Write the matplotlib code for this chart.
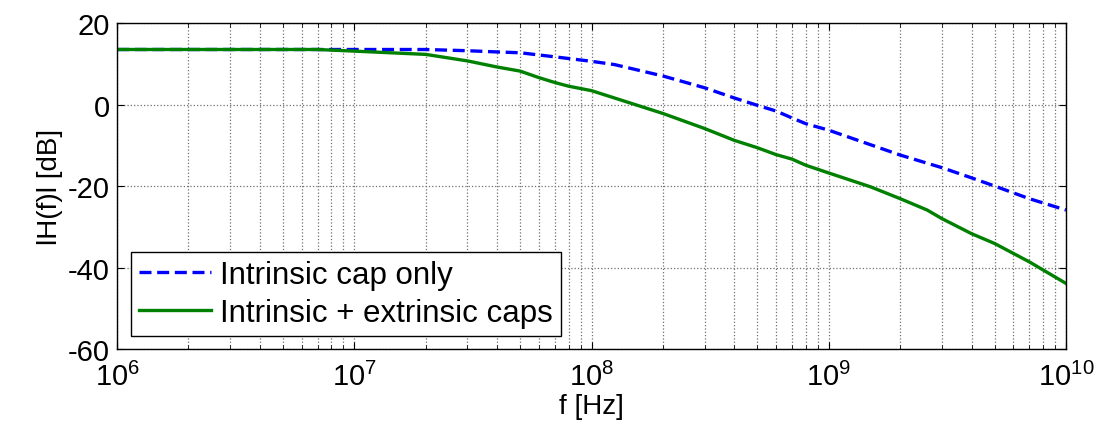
import matplotlib.pyplot as plt
from matplotlib.ticker import LogLocator, NullFormatter

# frequency points [Hz] and magnitude [dB]
freq_blue = [1e6, 2e6, 5e6, 1e7, 2e7, 3e7, 4e7, 5e7, 7e7, 1e8, 1.25e8, 2e8, 3e8, 4e8,
             5e8, 6e8, 7e8, 8e8, 1e9, 2e9, 3e9, 4e9, 5e9, 7e9, 1e10]
mag_blue = [13.5, 13.5, 13.5, 13.5, 13.5, 13.2, 12.9, 12.7, 11.7, 10.6, 9.8, 7.0, 4.1, 1.6,
            -0.2, -1.6, -3.3, -4.7, -6.3, -12.4, -15.5, -18.0, -20.0, -23.1, -25.9]

freq_green = [1e6, 2e6, 5e6, 7e6, 1e7, 2e7, 3e7, 4e7, 5e7, 6e7, 7e7, 8e7, 1e8, 1.25e8,
              2e8, 3e8, 4e8, 5e8, 6e8, 7e8, 8e8, 1e9, 1.5e9, 2e9, 2.6e9, 3e9, 4e9, 5e9,
              7e9, 1e10]
mag_green = [13.5, 13.5, 13.5, 13.5, 13.1, 12.3, 10.7, 9.2, 8.2, 6.6, 5.4, 4.5, 3.4, 1.6,
             -2.2, -5.9, -8.8, -10.6, -12.3, -13.4, -14.9, -16.8, -20.2, -23.1, -25.9, -28.0,
             -31.7, -34.1, -38.6, -43.9]

plt.rcParams['font.family'] = ['Liberation Sans', 'DejaVu Sans']
plt.rcParams['mathtext.fontset'] = 'custom'
plt.rcParams['mathtext.rm'] = 'Liberation Sans'
plt.rcParams['axes.unicode_minus'] = False

fig = plt.figure(figsize=(10.97, 4.35), dpi=100)
ax = fig.add_axes([0.1067, 0.1954, 0.8650, 0.7494])

ax.semilogx(freq_blue, mag_blue, '--', color='#0000ff', lw=2.4, dashes=(3.6, 1.7),
            label='Intrinsic cap only')
ax.semilogx(freq_green, mag_green, '-', color='#008000', lw=2.4,
            label='Intrinsic + extrinsic caps')

ax.set_xlim(1e6, 1e10)
ax.set_ylim(-60, 20)
ax.set_yticks([-60, -40, -20, 0, 20])
ax.xaxis.set_major_locator(LogLocator(base=10, numticks=10))
ax.xaxis.set_minor_locator(LogLocator(base=10, subs=range(2, 10), numticks=100))
ax.xaxis.set_minor_formatter(NullFormatter())

ax.grid(True, which='major', color='#707070', ls=':', lw=0.9)
ax.grid(True, which='minor', axis='x', color='#707070', ls=':', lw=0.9)

ax.tick_params(which='both', direction='in', top=True, right=True, labelsize=21)
ax.tick_params(which='major', length=5, pad=5)
ax.tick_params(which='minor', length=3)
ax.tick_params(axis='x', which='major', pad=9)
for s in ax.spines.values():
    s.set_linewidth(1.0)

ax.set_xlabel('f [Hz]', fontsize=20, labelpad=2)
ax.set_ylabel('lH(f)l [dB]', fontsize=20, labelpad=4)

leg = ax.legend(loc='lower left', bbox_to_anchor=(0.008, 0.022), fontsize=22.5,
                fancybox=False, edgecolor='black', framealpha=1,
                handlelength=2.3, handletextpad=0.3, borderpad=0.25,
                labelspacing=0.25, borderaxespad=0.2)
leg.get_frame().set_linewidth(1.0)

fig.savefig('out.png', dpi=100)
